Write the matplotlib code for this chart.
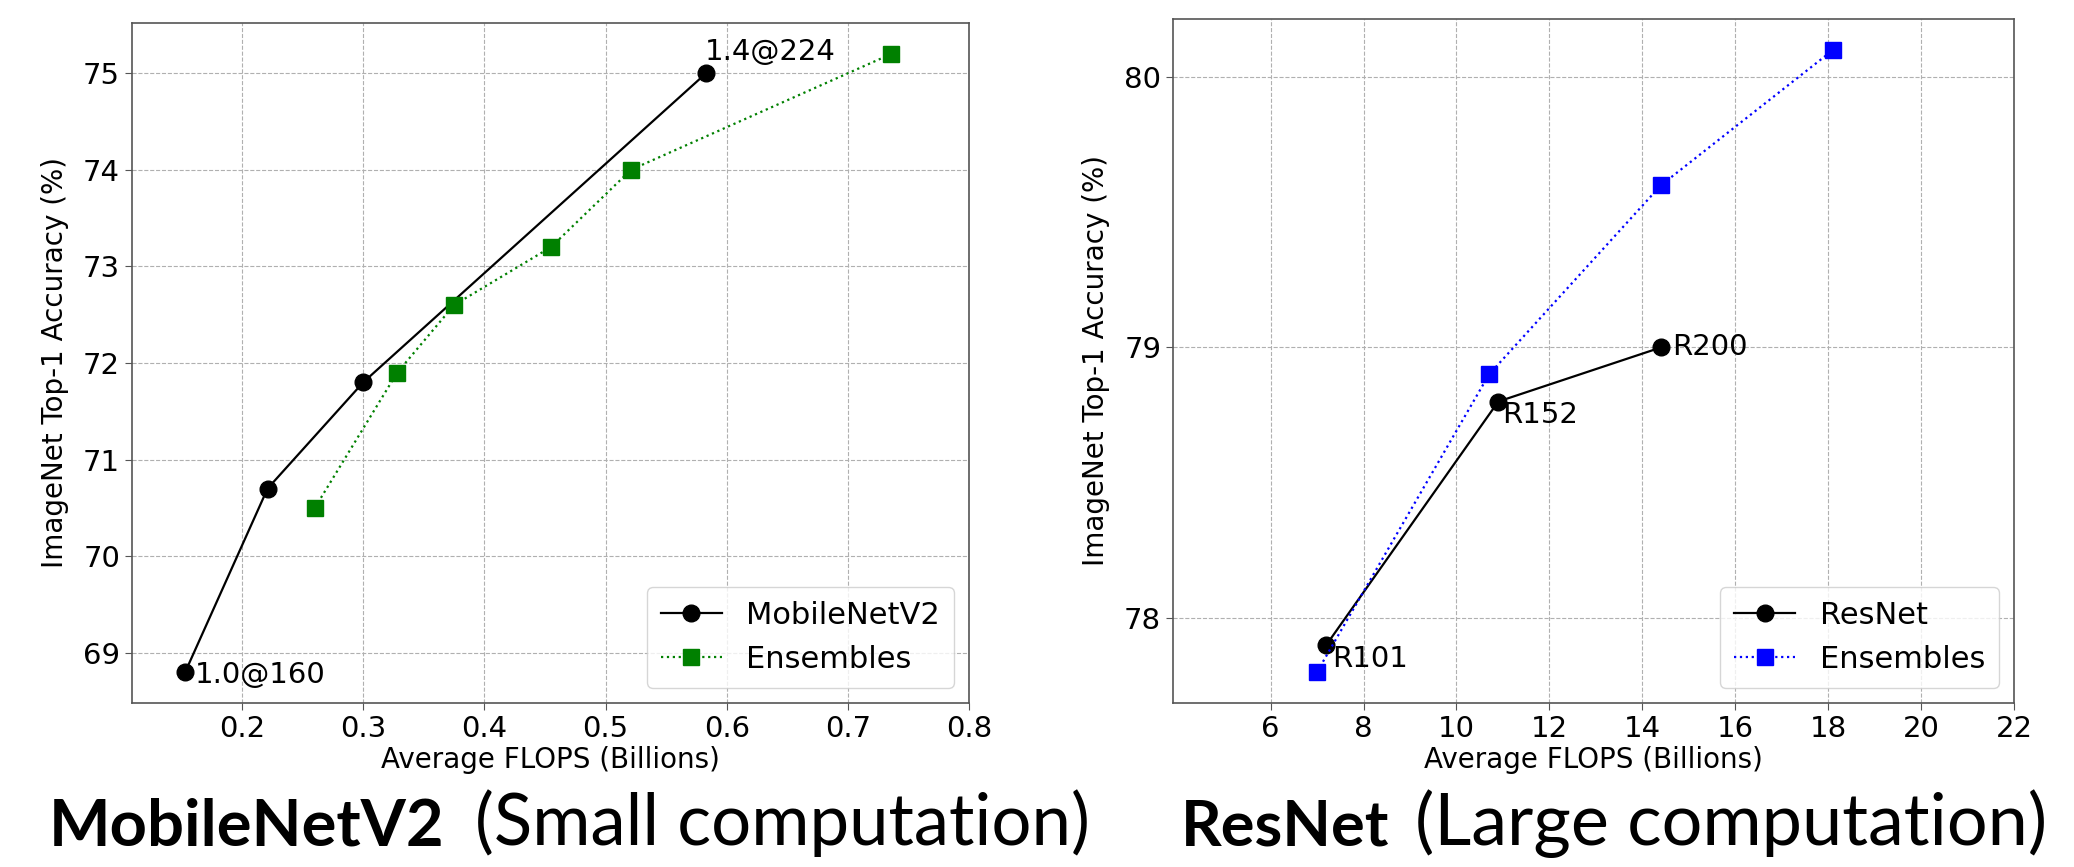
import matplotlib
matplotlib.use("Agg")
import matplotlib.pyplot as plt

# MobileNetV2 panel
mb_flops = [0.153, 0.221, 0.300, 0.583]
mb_acc = [68.8, 70.7, 71.8, 75.0]
mb_ens_flops = [0.260, 0.328, 0.375, 0.455, 0.521, 0.736]
mb_ens_acc = [70.5, 71.9, 72.6, 73.2, 74.0, 75.2]

# ResNet panel
rn_flops = [7.2, 10.9, 14.4]
rn_acc = [77.9, 78.8, 79.0]
rn_names = ["R101", "R152", "R200"]
rn_ens_flops = [7.0, 10.7, 14.4, 18.1]
rn_ens_acc = [77.8, 78.9, 79.6, 80.1]

FS = 21

fig = plt.figure(figsize=(20.74, 8.67), dpi=100)
ax1 = fig.add_axes([0.0636, 0.1892, 0.4036, 0.7843])
ax2 = fig.add_axes([0.5656, 0.1892, 0.4055, 0.7889])


def style(ax):
    ax.grid(True, linestyle="--", color="#b0b0b0", linewidth=0.8)
    ax.set_axisbelow(True)
    for s in ax.spines.values():
        s.set_color("#555555")
        s.set_linewidth(1.2)
    ax.tick_params(labelsize=FS, length=5, color="#555555")
    ax.set_xlabel("Average FLOPS (Billions)", fontsize=FS - 1, labelpad=2)
    ax.set_ylabel("ImageNet Top-1 Accuracy (%)", fontsize=FS - 1, labelpad=10)


def legend(ax):
    ax.legend(loc="lower right", fontsize=22, borderpad=0.45, handlelength=2.0,
              handletextpad=0.8, borderaxespad=0.5, framealpha=0.8)


ax1.plot(mb_flops, mb_acc, "-o", color="black", lw=1.6, ms=12, label="MobileNetV2")
ax1.plot(mb_ens_flops, mb_ens_acc, ":s", color="green", lw=1.6, ms=11, label="Ensembles")
ax1.set_xlim(0.109, 0.8)
ax1.set_xticks([0.2, 0.3, 0.4, 0.5, 0.6, 0.7, 0.8])
ax1.set_yticks([69, 70, 71, 72, 73, 74, 75])
style(ax1)
ax1.annotate("1.0@160", (mb_flops[0], mb_acc[0]), xytext=(7, -2), textcoords="offset points",
             fontsize=FS, va="center", ha="left")
ax1.annotate("1.4@224", (mb_flops[-1], mb_acc[-1]), xytext=(-1, 5), textcoords="offset points",
             fontsize=FS, va="bottom", ha="left")
legend(ax1)

ax2.plot(rn_flops, rn_acc, "-o", color="black", lw=1.6, ms=12, label="ResNet")
ax2.plot(rn_ens_flops, rn_ens_acc, ":s", color="blue", lw=1.6, ms=11, label="Ensembles")
ax2.set_xlim(3.9, 22)
ax2.set_xticks([6, 8, 10, 12, 14, 16, 18, 20, 22])
ax2.set_yticks([78, 79, 80])
style(ax2)
offsets = [(4, -10), (3, -10), (8, 0)]
for x, y, name, off in zip(rn_flops, rn_acc, rn_names, offsets):
    ax2.annotate(name, (x, y), xytext=off, textcoords="offset points",
                 fontsize=FS, va="center", ha="left")
legend(ax2)

# captions below the panels: bold name + regular description, each fitted to its span
renderer = fig.canvas.get_renderer()
W, H = fig.get_size_inches() * fig.dpi
base_y = 1 - 845 / H
captions = [("MobileNetV2", "bold", 49, 445),
            ("(Small computation)", "normal", 475, 1091),
            ("ResNet", "bold", 1181, 1389),
            ("(Large computation)", "normal", 1415, 2048)]
for txt, weight, x0, x1 in captions:
    size = 44
    for _ in range(4):
        t = fig.text(x0 / W, base_y, txt, fontsize=size, fontweight=weight,
                     family="Lato", va="baseline", ha="left")
        e = t.get_window_extent(renderer)
        if abs(e.width - (x1 - x0)) < 2:
            break
        t.remove()
        size *= (x1 - x0) / e.width

fig.savefig("out.png", dpi=100)
